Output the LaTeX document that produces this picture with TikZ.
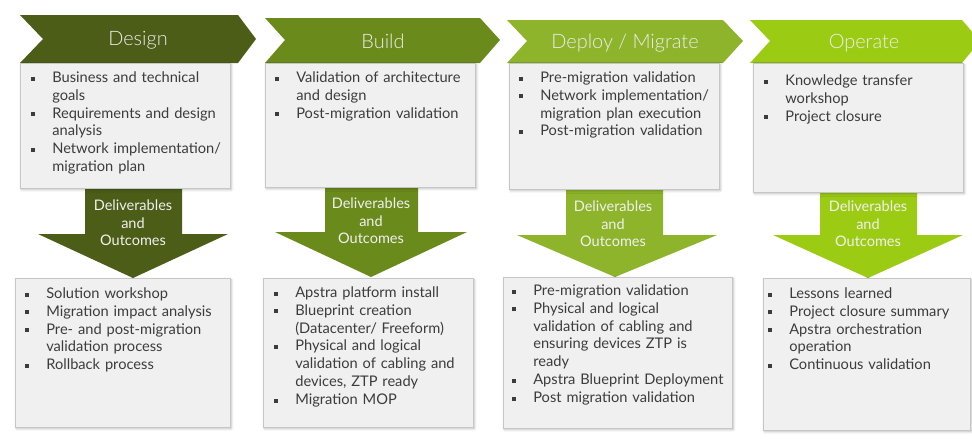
\documentclass[tikz,border=0pt]{standalone}
\usepackage{fontspec}
\setmainfont{Lato}
\newfontfamily\titlefont{Lato Light}
\usepackage{enumitem}
\usepackage{tikz}
\usetikzlibrary{positioning, shadows.blur}

\definecolor{cdesign}{HTML}{4B5D17}
\definecolor{cbuild}{HTML}{6A8A1B}
\definecolor{cdeploy}{HTML}{8DB42A}
\definecolor{coperate}{HTML}{9CCB14}
\definecolor{boxfill}{HTML}{F0F0F0}
\definecolor{boxline}{HTML}{C6C6C6}
\definecolor{txtgray}{HTML}{3C3C3C}

\setlist[itemize]{label={\rule[1.4pt]{3.4pt}{3.4pt}}, leftmargin=18pt, labelwidth=3.4pt, labelsep=14.6pt,
  itemsep=0pt, topsep=0pt, parsep=0pt, partopsep=0pt}

\begin{document}
\begin{tikzpicture}[x=0.03cm, y=-0.03cm,
  chev/.style={draw=none},
  title/.style={text=white!93!black, font=\titlefont\fontsize{17}{20}\selectfont, inner sep=0pt},
  panel/.style={rectangle, fill=boxfill, draw=boxline, line width=0.4pt, inner sep=0pt, outer sep=0pt,
    anchor=north west, blur shadow={shadow xshift=1.2pt, shadow yshift=-1.5pt, shadow opacity=25, shadow blur steps=6}},
  lst/.style={anchor=north west, inner sep=0pt, text width=7cm, text=txtgray,
    font=\fontsize{12.5}{15.3}\selectfont},
  dlv/.style={text=white!94!black, align=center, inner sep=0pt, font=\fontsize{12.4}{15}\selectfont},
]
  \useasboundingbox (0,0) rectangle (972,441);

  % phase chevrons
  \fill[chev, cdesign] (20,15) -- (238,15) -- (256,39) -- (238,63) -- (20,63) -- (43,39) -- cycle;
  \fill[chev, cbuild] (265,18) -- (480,18) -- (500,40) -- (480,63) -- (265,63) -- (285,40) -- cycle;
  \fill[chev, cdeploy] (507,20) -- (723,20) -- (743,41) -- (723,63) -- (507,63) -- (527,41) -- cycle;
  \fill[chev, coperate] (750,20) -- (962,20) -- (980,41) -- (962,63) -- (750,63) -- (770,41) -- cycle;

  \node[title] (tdesign) at (138,40) {Design};
  \node[title] (tbuild) at (383,41) {Build};
  \node[title] (tdeploy) at (625,43) {Deploy / Migrate};
  \node[title] (toperate) at (864,43) {Operate};

  % down arrows
  \fill[cdesign] (85,186) -- (182,186) -- (182,234) -- (228,234) -- (133,278) -- (38,234) -- (85,234) -- cycle;
  \fill[cbuild] (325,186) -- (418,186) -- (418,232) -- (467,232) -- (371,277) -- (275,232) -- (325,232) -- cycle;
  \fill[cdeploy] (566,186) -- (663,186) -- (663,235) -- (717,235) -- (615,277) -- (517,235) -- (566,235) -- cycle;
  \fill[coperate] (820,186) -- (917,186) -- (917,235) -- (963,235) -- (868,278) -- (773,235) -- (820,235) -- cycle;

  \node[dlv] (ddesign) at (133,223) {Deliverables\\and\\Outcomes};
  \node[dlv] (dbuild) at (371,221) {Deliverables\\and\\Outcomes};
  \node[dlv] (ddeploy) at (613,224) {Deliverables\\and\\Outcomes};
  \node[dlv] (doperate) at (868,224) {Deliverables\\and\\Outcomes};

  % activity panels
  \node[panel, minimum width=6.3cm, minimum height=3.75cm] (pdesign) at (20,63) {};
  \node[panel, minimum width=6.3cm, minimum height=3.72cm] (pbuild) at (265,63) {};
  \node[panel, minimum width=6.3cm, minimum height=3.78cm] (pdeploy) at (509,63) {};
  \node[panel, minimum width=6.3cm, minimum height=3.87cm] (poperate) at (753,63) {};

  % outcome panels
  \node[panel, minimum width=6.45cm, minimum height=4.47cm] (odesign) at (15,278) {};
  \node[panel, minimum width=6.3cm, minimum height=4.47cm] (obuild) at (263,278) {};
  \node[panel, minimum width=6.87cm, minimum height=4.53cm] (odeploy) at (503,277) {};
  \node[panel, minimum width=6.21cm, minimum height=4.56cm] (ooperate) at (763,278) {};

  \node[lst] (ldesign) at (31,64) {\begin{itemize}
    \item Business and technical\newline goals
    \item Requirements and design\newline analysis
    \item Network implementation/\newline migration plan
  \end{itemize}};
  \node[lst] (lbuild) at (275,64) {\begin{itemize}
    \item Validation of architecture\newline and design
    \item Post-migration validation
  \end{itemize}};
  \node[lst] (ldeploy) at (519,64) {\begin{itemize}
    \item Pre-migration validation
    \item Network implementation/\newline migration plan execution
    \item Post-migration validation
  \end{itemize}};
  \node[lst] (loperate) at (764,67) {\begin{itemize}
    \item Knowledge transfer\newline workshop
    \item Project closure
  \end{itemize}};

  \node[lst] (mdesign) at (25,280) {\begin{itemize}
    \item Solution workshop
    \item Migration impact analysis
    \item Pre- and post-migration\newline validation process
    \item Rollback process
  \end{itemize}};
  \node[lst] (mbuild) at (274,279) {\begin{itemize}
    \item Apstra platform install
    \item Blueprint creation\newline (Datacenter/ Freeform)
    \item Physical and logical\newline validation of cabling and\newline devices, ZTP ready
    \item Migration MOP
  \end{itemize}};
  \node[lst] (mdeploy) at (512,277) {\begin{itemize}
    \item Pre-migration validation
    \item Physical and logical\newline validation of cabling and\newline ensuring devices ZTP is\newline ready
    \item Apstra Blueprint Deployment
    \item Post migration validation
  \end{itemize}};
  \node[lst] (moperate) at (768,280) {\begin{itemize}
    \item Lessons learned
    \item Project closure summary
    \item Apstra orchestration\newline operation
    \item Continuous validation
  \end{itemize}};
\end{tikzpicture}
\end{document}
